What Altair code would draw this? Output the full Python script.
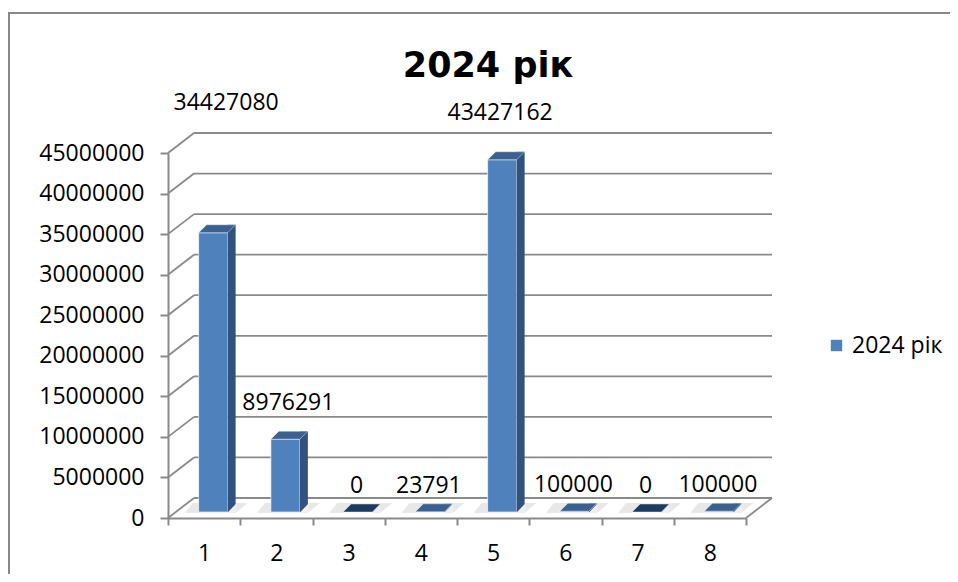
import altair as alt
import pandas as pd

# ---- data ----
categories = ["1", "2", "3", "4", "5", "6", "7", "8"]
values = [34427080, 8976291, 0, 23791, 43427162, 100000, 0, 100000]
series_name = "2024 рік"
y_ticks = [0, 5000000, 10000000, 15000000, 20000000, 25000000,
           30000000, 35000000, 40000000, 45000000]

df = pd.DataFrame({"cat": categories, "value": values, "series": series_name})
ticks_df = pd.DataFrame({"v": y_ticks})
one_df = pd.DataFrame({"k": [0]})

# ---- layout constants (pixels) ----
W, H = 578, 365
PAD = {"left": 160, "top": 145, "right": 204, "bottom": 56}
DX, DY = 26, -20          # back-wall depth
FX, FY = 9, -6            # bar front-face shift (mid depth)
BW, SD = 29, 8            # bar width, bar side depth

GRID = "#8A8A8A"
FRONT = "#4F81BD"
SIDE = "#31527D"
TOP = "#3B6191"
TOP0 = "#1F3A60"
FONT = "Open Sans"
FS = 23

xscale = alt.Scale(domain=categories, paddingInner=0, paddingOuter=0)
yscale = alt.Scale(domain=[0, 45000000], nice=False, zero=True)

yaxis = alt.Axis(values=y_ticks, format="d", title=None, grid=False,
                 domainColor=GRID, domainWidth=2, tickColor=GRID, tickWidth=2,
                 tickSize=8, labelFont=FONT, labelFontSize=FS, labelColor="black",
                 labelPadding=16)
xaxis = alt.Axis(title=None, labelAngle=0, tickBand="extent", grid=False,
                 domainColor=GRID, domainWidth=2, tickColor=GRID, tickWidth=2,
                 tickSize=7, labelFont=FONT, labelFontSize=FS, labelColor="black",
                 labelPadding=17)


def X():
    return alt.X("cat:N", scale=xscale, sort=categories, axis=xaxis)


def Yf(field):
    return alt.Y(f"{field}:Q", scale=yscale, axis=yaxis)


ticks_base = alt.Chart(ticks_df)

back_grid = ticks_base.mark_rule(color=GRID, strokeWidth=1.8, yOffset=DY).encode(
    x=alt.value(DX), x2=alt.value(W + DX), y=Yf("v"))

connectors = ticks_base.mark_rule(color=GRID, strokeWidth=1.8, y2Offset=DY).encode(
    x=alt.value(0), x2=alt.value(DX), y=Yf("v"), y2="v:Q")

floor_right = ticks_base.transform_filter("datum.v == 0").mark_rule(
    color=GRID, strokeWidth=1.8, y2Offset=DY).encode(
    x=alt.value(W), x2=alt.value(W + DX), y=Yf("v"), y2="v:Q")

frame_left = alt.Chart(one_df).mark_rule(color="#888888", strokeWidth=2).encode(
    x=alt.value(-159), y=alt.value(-140), y2=alt.value(H + PAD["bottom"]))
frame_top = alt.Chart(one_df).mark_rule(color="#888888", strokeWidth=2).encode(
    x=alt.value(-160), x2=alt.value(W + PAD["right"]), y=alt.value(-140))

title = alt.Chart(one_df).mark_text(
    text="2024 рік", font="DejaVu Sans", fontSize=35, fontWeight="bold",
    color="black", align="center", baseline="alphabetic").encode(
    x=alt.value(320), y=alt.value(-76))

base = alt.Chart(df)
half = BW / 2

shadow_path = (f"M {-half - 14} 1 L {half + 8} 1 L {half + SD + 12} {-SD - 1} "
               f"L {-half - 6} {-SD - 1} Z")
shadow = base.mark_point(shape=shadow_path, size=4, filled=True, opacity=1,
                         strokeWidth=0, color="#E8E8E8",
                         xOffset=FX, yOffset=FY).encode(
    x=X(), y=Yf("zero")).transform_calculate(zero="0")

front = base.mark_bar(size=BW, xOffset=FX, yOffset=FY, y2Offset=FY,
                      stroke="white", strokeWidth=0.8, strokeOpacity=0.8).encode(
    x=X(), y=Yf("value"), y2=alt.datum(0),
    color=alt.Color("series:N", scale=alt.Scale(range=[FRONT]),
                    legend=alt.Legend(orient="none", legendX=657, legendY=181,
                                      title=None, padding=0,
                                      symbolType="square", symbolSize=130,
                                      symbolStrokeWidth=0, labelFont=FONT,
                                      labelFontSize=FS, labelColor="black",
                                      labelOffset=4)))

side = base.mark_bar(size=SD, xOffset=FX + BW / 2 + SD / 2,
                     yOffset=FY - SD, y2Offset=FY, color=SIDE).encode(
    x=X(), y=Yf("value"), y2=alt.datum(0))

cover_path = f"M 0 0.6 L {SD + 0.6} 0.6 L {SD + 0.6} {-SD - 0.6} Z"
cover = base.mark_point(shape=cover_path, size=4, filled=True, opacity=1,
                        strokeWidth=0, color="#EFEFEF",
                        xOffset=FX + half, yOffset=FY).encode(
    x=X(), y=Yf("zero")).transform_calculate(zero="0")

top_path = f"M {-half} 0 L {half} 0 L {half + SD} {-SD} L {-half + SD} {-SD} Z"
top = base.mark_point(shape=top_path, size=4, filled=True, opacity=1,
                      stroke="white", strokeWidth=0.6, strokeOpacity=0.7,
                      xOffset=FX, yOffset=FY).encode(
    x=X(), y=Yf("value"),
    fill=alt.condition("datum.value == 0", alt.value(TOP0), alt.value(TOP)))


def label_layer(filter_expr, dx, dy):
    return base.transform_filter(filter_expr).mark_text(
        font=FONT, fontSize=FS, color="black", baseline="middle", align="center",
        xOffset=FX, yOffset=FY, dx=dx, dy=dy).encode(
        x=X(), y=Yf("value"), text=alt.Text("value:Q", format="d"))


labels = [
    label_layer("datum.cat == '1'", 13, -130),
    label_layer("datum.cat == '2'", 3, -36),
    label_layer("datum.cat == '5'", -2, -47),
    label_layer("datum.cat != '1' && datum.cat != '2' && datum.cat != '5'", -1, -26),
]

chart = alt.layer(
    frame_left, frame_top, title, back_grid, connectors, floor_right,
    shadow, front, side, cover, top, *labels
).properties(
    width=W, height=H,
    padding=PAD,
    autosize=alt.AutoSizeParams(type="none"),
    background="white",
).configure_view(stroke=None)

chart.save("out.html", embed_options={"renderer": "svg", "actions": False})
